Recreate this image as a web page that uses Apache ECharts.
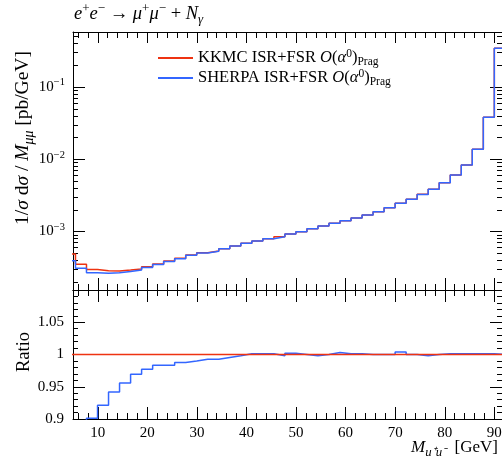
<!DOCTYPE html>
<html><head><meta charset="utf-8">
<script src="https://cdn.jsdelivr.net/npm/echarts@6/dist/echarts.min.js"></script>
<style>html,body{margin:0;padding:0;background:#fff}#c{width:502px;height:459px}</style>
</head><body><div id="c"></div>
<script>
// ---- data ----
const binEdges = [3.28, 5.50, 7.72, 9.95, 12.17, 14.39, 16.62, 18.84, 21.07, 23.29, 25.51, 27.74, 29.96, 32.18, 34.41, 36.63, 38.86, 41.08, 43.30, 45.53, 47.75, 49.97, 52.20, 54.42, 56.64, 58.87, 61.09, 63.32, 65.54, 67.76, 69.99, 72.21, 74.43, 76.66, 78.88, 81.11, 83.33, 85.55, 87.78, 90.00, 92.22];
const kkmc = [4.88e-4, 3.51e-4, 2.99e-4, 2.86e-4, 2.84e-4, 2.93e-4, 3.03e-4, 3.25e-4, 3.55e-4, 3.90e-4, 4.25e-4, 4.73e-4, 5.08e-4, 5.37e-4, 5.78e-4, 6.30e-4, 6.87e-4, 7.39e-4, 7.94e-4, 8.47e-4, 9.23e-4, 9.94e-4, 1.094e-3, 1.192e-3, 1.30e-3, 1.41e-3, 1.54e-3, 1.69e-3, 1.88e-3, 2.14e-3, 2.46e-3, 2.79e-3, 3.27e-3, 3.84e-3, 4.74e-3, 6.06e-3, 8.34e-3, 1.375e-2, 3.82e-2, 0.344];
const sherpa = [3.95e-4, 3.09e-4, 2.69e-4, 2.64e-4, 2.68e-4, 2.80e-4, 2.94e-4, 3.17e-4, 3.49e-4, 3.84e-4, 4.20e-4, 4.68e-4, 5.04e-4, 5.33e-4, 5.75e-4, 6.29e-4, 6.88e-4, 7.40e-4, 7.95e-4, 8.45e-4, 9.25e-4, 9.94e-4, 1.092e-3, 1.192e-3, 1.304e-3, 1.411e-3, 1.542e-3, 1.69e-3, 1.88e-3, 2.14e-3, 2.47e-3, 2.79e-3, 3.263e-3, 3.84e-3, 4.745e-3, 6.066e-3, 8.348e-3, 1.376e-2, 3.824e-2, 0.344];
const sherpaRatio = [0.81, 0.88, 0.901, 0.9215, 0.942, 0.956, 0.9695, 0.977, 0.9834, 0.9834, 0.9876, 0.990, 0.9927, 0.9927, 0.9955, 0.998, 1.001, 1.001, 1.001, 0.998, 1.002, 1.000, 0.998, 1.000, 1.003, 1.001, 1.001, 1.000, 1.000, 1.000, 1.004, 1.000, 0.998, 1.000, 1.001, 1.001, 1.001, 1.001, 1.001, 1.000];
const xMajorTicks = [10, 20, 30, 40, 50, 60, 70, 80, 90];
const xMinorTicks = [6, 8, 12, 14, 16, 18, 22, 24, 26, 28, 32, 34, 36, 38, 42, 44, 46, 48, 52, 54, 56, 58, 62, 64, 66, 68, 72, 74, 76, 78, 82, 84, 86, 88];
const yMajorTicks = [1e-3, 1e-2, 1e-1];
const yMinorTicks = [2e-4, 3e-4, 4e-4, 5e-4, 6e-4, 7e-4, 8e-4, 9e-4, 2e-3, 3e-3, 4e-3, 5e-3, 6e-3, 7e-3, 8e-3, 9e-3, 2e-2, 3e-2, 4e-2, 5e-2, 6e-2, 7e-2, 8e-2, 9e-2, 0.2, 0.3, 0.4, 0.5];
const xMin = 5, xMax = 91.55;
const yTopMin = 1.55e-4, yTopMax = 0.578;
const ratioMin = 0.9, ratioMax = 1.1;

// ---- styling ----
const F = 'Liberation Serif';
const RED = '#ee3311', BLUE = '#3366ff';
function richSet(size, lh, subScale) {
  lh = lh || size + 8;
  const s = Math.round(size * (subScale || 0.7) * 10) / 10;
  return {
    rm: {fontFamily: F, fontSize: size, lineHeight: lh, verticalAlign: 'middle', color: '#000'},
    it: {fontFamily: F, fontSize: size, fontStyle: 'italic', lineHeight: lh, verticalAlign: 'middle', color: '#000'},
    sp: {fontFamily: F, fontSize: s, lineHeight: s + 2, verticalAlign: 'top', color: '#000'},
    sb: {fontFamily: F, fontSize: s, lineHeight: s + 2, verticalAlign: 'bottom', color: '#000'},
    sbi: {fontFamily: F, fontSize: s, fontStyle: 'italic', lineHeight: s + 2, verticalAlign: 'bottom', color: '#000'}
  };
}
function stepData(edges, vals) {
  const d = vals.map((v, i) => [edges[i], v]);
  d.push([edges[vals.length], vals[vals.length - 1]]);
  return d;
}
const kkmcRatio = kkmc.map(v => v / v);
const L = Math.log10;

const line = {show: true, onZero: false, lineStyle: {color: '#000', width: 1}};
const noLine = {show: false, onZero: false};
function xAx(grid, pos, ticks, len, showLine, labels) {
  return {
    type: 'value', gridIndex: grid, position: pos, min: xMin, max: xMax,
    axisLine: showLine ? line : noLine,
    axisTick: {show: true, inside: true, length: len, customValues: ticks, lineStyle: {color: '#000', width: 1}},
    axisLabel: labels ? {show: true, customValues: ticks, fontFamily: F, fontSize: 15, color: '#000', margin: 7} : {show: false},
    splitLine: {show: false}
  };
}
function yLogAx(pos, ticks, len, showLine, labels) {
  return {
    type: 'value', gridIndex: 0, position: pos, min: L(yTopMin), max: L(yTopMax),
    axisLine: showLine ? line : noLine,
    axisTick: {show: true, inside: true, length: len, customValues: ticks.map(L), lineStyle: {color: '#000', width: 1}},
    axisLabel: labels ? {
      show: true, customValues: ticks.map(L), margin: 8,
      formatter: v => '{rm|10}{sp|−' + Math.round(-v) + '}',
      rich: richSet(15, 20)
    } : {show: false},
    splitLine: {show: false}
  };
}
function yRatioAx(pos, labels) {
  return {
    type: 'value', gridIndex: 1, position: pos, min: ratioMin, max: ratioMax, interval: 0.05,
    axisLine: line,
    axisTick: {show: true, inside: true, length: 12, lineStyle: {color: '#000', width: 1}},
    minorTick: {show: true, splitNumber: 5, length: 5, lineStyle: {color: '#000', width: 1}},
    axisLabel: labels ? {show: true, showMaxLabel: false, fontFamily: F, fontSize: 15, color: '#000', margin: 9} : {show: false},
    splitLine: {show: false}
  };
}

const legendText = {
  KKMC: '{rm|KKMC ISR+FSR }{it|O}{rm|(}{it|α}{sp|0}{rm|)}{sb|Prag}',
  SHERPA: '{rm|SHERPA ISR+FSR }{it|O}{rm|(}{it|α}{sp|0}{rm|)}{sb|Prag}'
};

const chart = echarts.init(document.getElementById('c'), null, {renderer: 'canvas'});
chart.setOption({
  animation: false,
  backgroundColor: '#fff',
  grid: [
    {left: 73, top: 32, width: 429, height: 258, outerBoundsMode: 'none', containLabel: false},
    {left: 73, top: 290, width: 429, height: 129, outerBoundsMode: 'none', containLabel: false}
  ],
  xAxis: [
    xAx(0, 'bottom', xMajorTicks, 12, true, false),
    xAx(0, 'bottom', xMinorTicks, 6, false, false),
    xAx(0, 'top', xMajorTicks, 11, true, false),
    xAx(0, 'top', xMinorTicks, 6, false, false),
    xAx(1, 'bottom', xMajorTicks, 12, true, true),
    xAx(1, 'bottom', xMinorTicks, 6, false, false),
    xAx(1, 'top', xMajorTicks, 12, true, false),
    xAx(1, 'top', xMinorTicks, 6, false, false)
  ],
  yAxis: [
    {type: 'log', gridIndex: 0, min: yTopMin, max: yTopMax, show: false},
    yLogAx('left', yMajorTicks, 12, true, true),
    yLogAx('left', yMinorTicks, 5, false, false),
    yLogAx('right', yMajorTicks, 12, true, false),
    yLogAx('right', yMinorTicks, 5, false, false),
    yRatioAx('left', true),
    yRatioAx('right', false)
  ],
  legend: {
    left: 158, top: 48, orient: 'vertical', padding: 0, itemGap: 0,
    icon: 'rect', itemWidth: 35, itemHeight: 2,
    data: ['KKMC', 'SHERPA'],
    formatter: n => legendText[n],
    textStyle: {rich: richSet(16.5, 20)}
  },
  series: [
    {name: 'KKMC', type: 'line', xAxisIndex: 0, yAxisIndex: 0, step: 'end', symbol: 'none',
      data: stepData(binEdges, kkmc), lineStyle: {color: RED, width: 1.5}, itemStyle: {color: RED}, z: 2},
    {name: 'SHERPA', type: 'line', xAxisIndex: 0, yAxisIndex: 0, step: 'end', symbol: 'none',
      data: stepData(binEdges, sherpa), lineStyle: {color: BLUE, width: 1.5}, itemStyle: {color: BLUE}, z: 3},
    {name: 'SHERPA', type: 'line', xAxisIndex: 4, yAxisIndex: 5, step: 'end', symbol: 'none',
      data: stepData(binEdges, sherpaRatio), lineStyle: {color: BLUE, width: 1.5}, itemStyle: {color: BLUE}, z: 2},
    {name: 'KKMC', type: 'line', xAxisIndex: 4, yAxisIndex: 5, step: 'end', symbol: 'none',
      data: stepData(binEdges, kkmcRatio), lineStyle: {color: RED, width: 1.5}, itemStyle: {color: RED}, z: 3}
  ],
  graphic: [
    {type: 'text', x: 74, y: 14, style: {
      text: '{it|e}{sp|+}{it|e}{sp|−}{rm| → }{it|μ}{sp|+}{it|μ}{sp|−}{rm| + }{it|N}{sbi|γ}',
      rich: richSet(18.5, 24), align: 'left', textAlign: 'left', verticalAlign: 'middle', textVerticalAlign: 'middle'}},
    {type: 'text', x: 23, y: 138, rotation: Math.PI / 2, style: {
      text: '{rm|1/}{it|σ}{rm| d}{it|σ}{rm| / }{it|M}{sbi|μμ}{rm| [pb/GeV]}',
      rich: richSet(19.5, 26), align: 'center', textAlign: 'center', verticalAlign: 'middle', textVerticalAlign: 'middle'}},
    {type: 'text', x: 24, y: 352, rotation: Math.PI / 2, style: {
      text: '{rm|Ratio}',
      rich: richSet(18.5, 24), align: 'center', textAlign: 'center', verticalAlign: 'middle', textVerticalAlign: 'middle'}},
    {type: 'text', x: 498, y: 448, style: {
      text: '{it|M}{sbi|u⁺u⁻}{rm|  [GeV]}',
      rich: richSet(17, 22, 0.75), align: 'right', textAlign: 'right', verticalAlign: 'middle', textVerticalAlign: 'middle'}}
  ]
});
</script>
</body></html>
